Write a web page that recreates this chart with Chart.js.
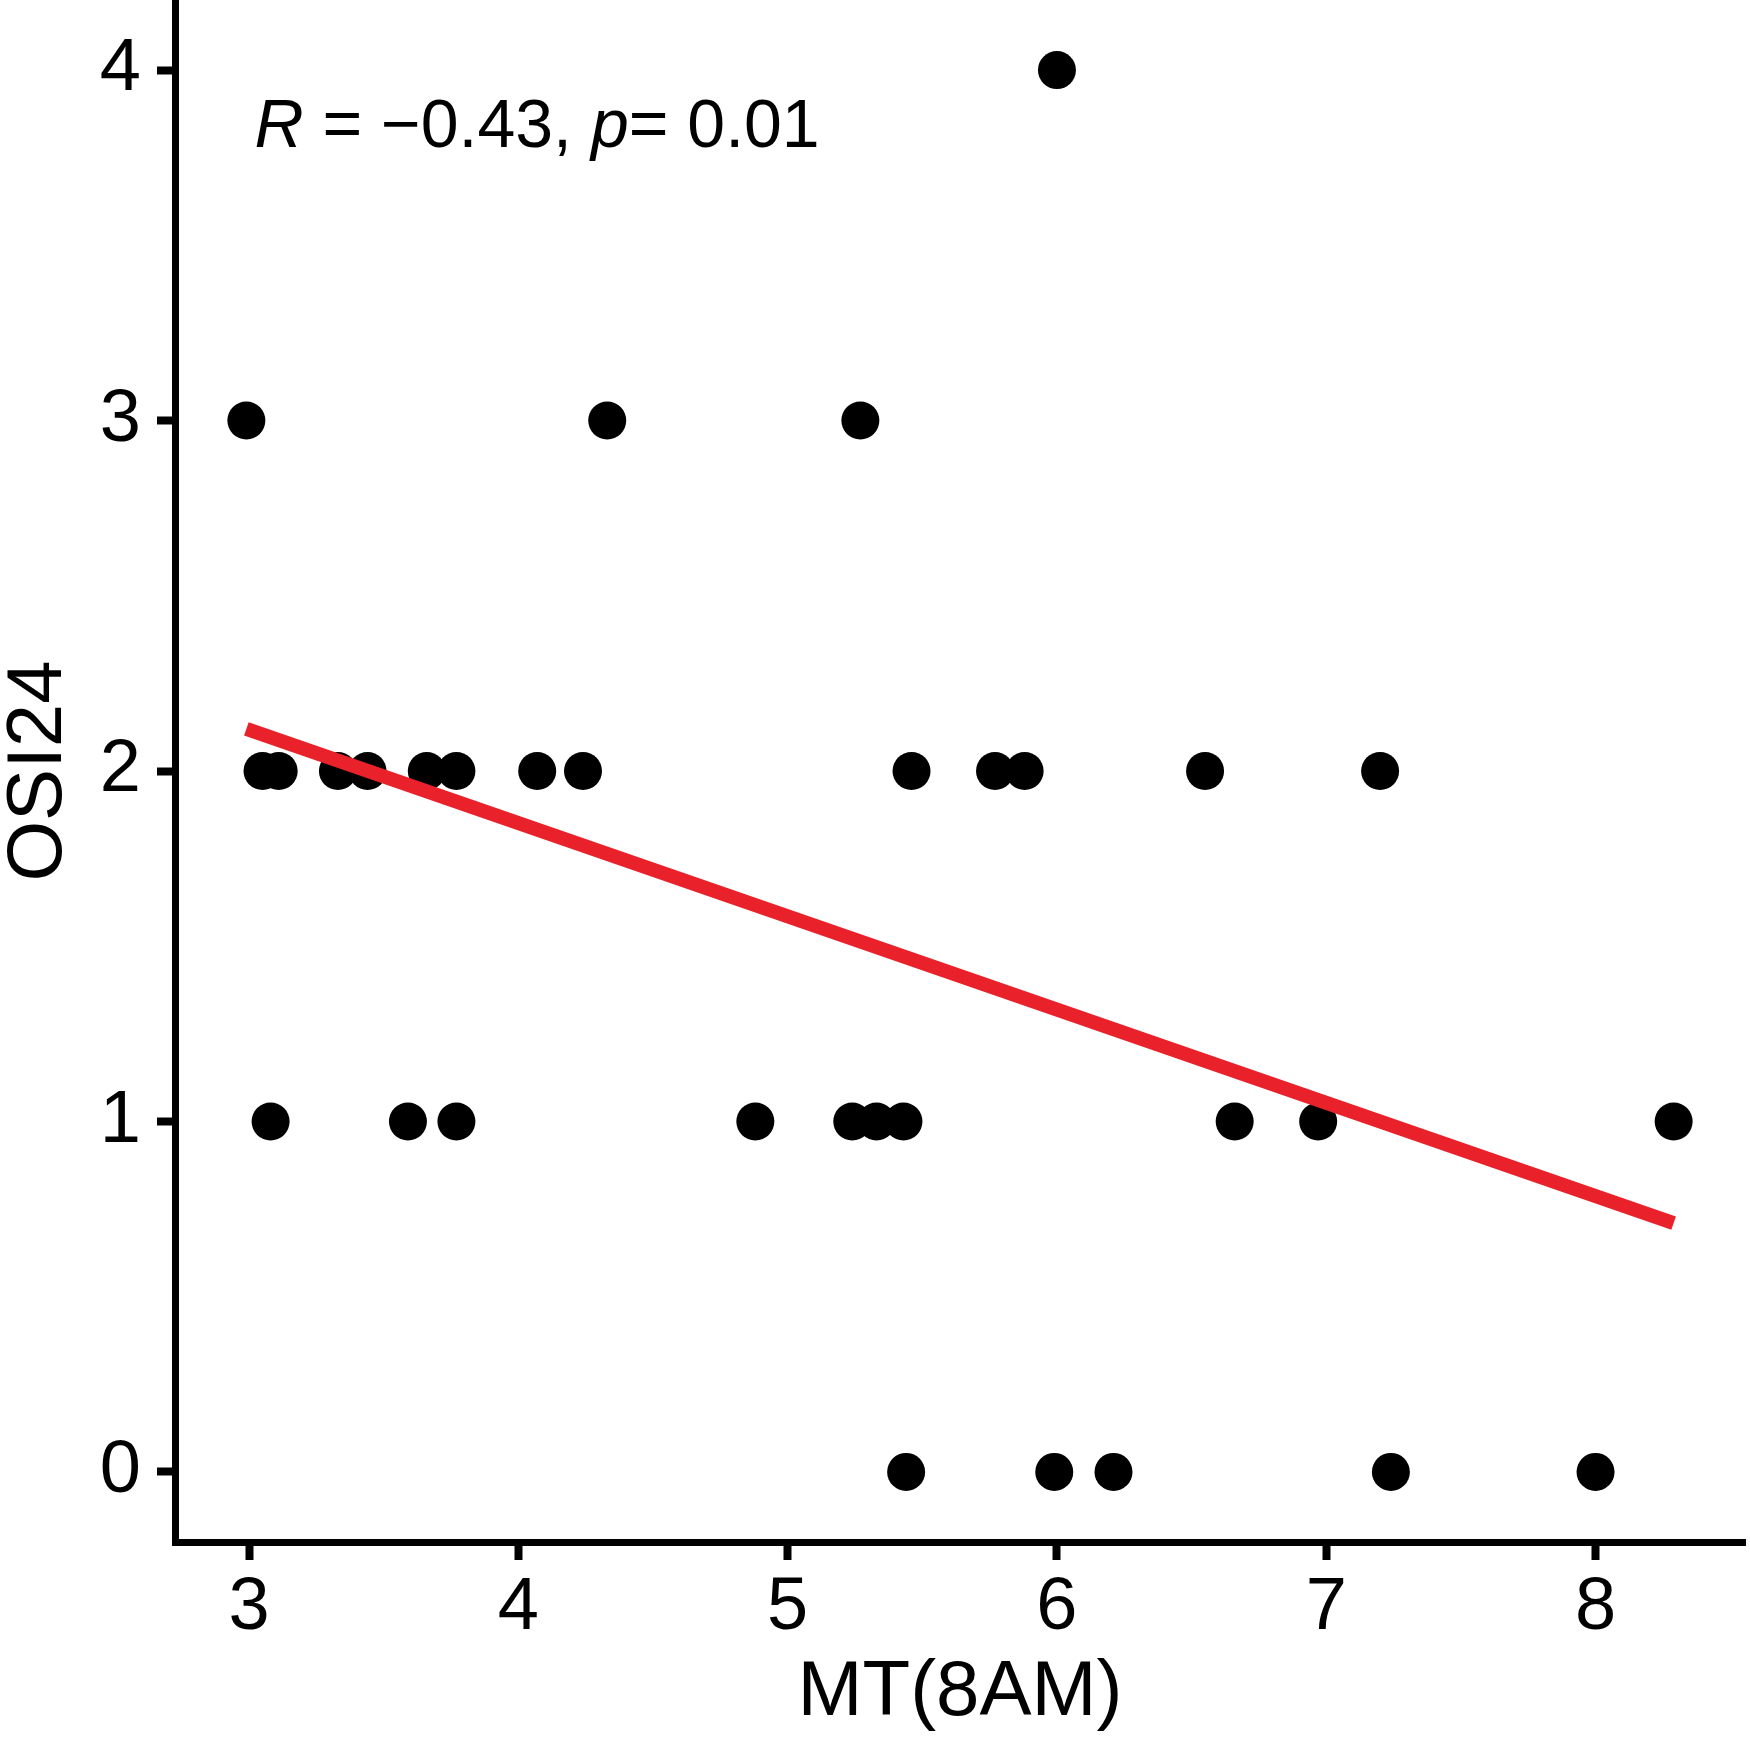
<!DOCTYPE html>
<html>
<head>
<meta charset="utf-8">
<script src="https://cdn.jsdelivr.net/npm/chart.js@4"></script>
<style>
  html, body { margin: 0; padding: 0; background: #fff; }
  #chart { display: block; }
</style>
</head>
<body>
<canvas id="chart" width="1750" height="1745"></canvas>
<script>
// MT at 8AM and the matching OSI24 score
const mtValues = [
    6.00,
    2.99, 4.33, 5.27,
    3.05, 3.11, 3.33, 3.44, 3.66, 3.77, 4.07, 4.24, 5.46, 5.77, 5.88, 6.55, 7.20,
    3.08, 3.59, 3.77, 4.88, 5.24, 5.33, 5.43, 6.66, 6.97, 8.29,
    5.44, 5.99, 6.21, 7.24, 8.00
];
const osiValues = [
    4,
    3, 3, 3,
    2, 2, 2, 2, 2, 2, 2, 2, 2, 2, 2, 2, 2,
    1, 1, 1, 1, 1, 1, 1, 1, 1, 1,
    0, 0, 0, 0, 0
];

// ends of the fitted line
const fitX = [2.99, 8.29];
const fitY = [2.12, 0.71];

const xTicks = [3, 4, 5, 6, 7, 8];
const yTicks = [0, 1, 2, 3, 4];

const corLabel = [
    { text: 'R', italic: true },
    { text: ' = \u22120.43, ', italic: false },
    { text: 'p', italic: true },
    { text: '= 0.01', italic: false }
];
const corAt = { x: 3.02, y: 3.78 };

const points = mtValues.map((v, i) => ({ x: v, y: osiValues[i] }));
const fitLine = fitX.map((v, i) => ({ x: v, y: fitY[i] }));

const FONT = "'Liberation Sans', Arial, sans-serif";

const corText = {
    id: 'corText',
    afterDatasetsDraw(chart) {
        const ctx = chart.ctx;
        let x = chart.scales.x.getPixelForValue(corAt.x);
        const y = chart.scales.y.getPixelForValue(corAt.y);
        ctx.save();
        ctx.fillStyle = '#000';
        ctx.textBaseline = 'alphabetic';
        ctx.textAlign = 'left';
        corLabel.forEach(part => {
            ctx.font = (part.italic ? 'italic ' : '') + '68px ' + FONT;
            ctx.fillText(part.text, x, y);
            x += ctx.measureText(part.text).width;
        });
        ctx.restore();
    }
};

const axisGrid = {
    drawOnChartArea: false,
    drawTicks: true,
    tickLength: 18,
    tickWidth: 8,
    tickColor: '#000'
};

new Chart(document.getElementById('chart').getContext('2d'), {
    type: 'scatter',
    data: {
        datasets: [
            {
                type: 'line',
                data: fitLine,
                borderColor: '#e8212a',
                borderWidth: 14,
                borderCapStyle: 'butt',
                pointRadius: 0,
                fill: false,
                order: 0
            },
            {
                data: points,
                backgroundColor: '#000',
                borderWidth: 0,
                pointRadius: 19,
                pointHoverRadius: 19,
                order: 1
            }
        ]
    },
    options: {
        responsive: false,
        devicePixelRatio: 1,
        animation: false,
        layout: {
            autoPadding: false,
            padding: { left: 0, right: 5, top: 0, bottom: 0 }
        },
        plugins: {
            legend: { display: false },
            tooltip: { enabled: false }
        },
        scales: {
            x: {
                type: 'linear',
                min: 2.725,
                max: 8.555,
                afterFit(scale) {
                    scale.height = 203;
                    scale.paddingLeft = 0;
                    scale.paddingRight = 0;
                },
                afterBuildTicks(scale) { scale.ticks = xTicks.map(v => ({ value: v })); },
                grid: axisGrid,
                border: { display: true, width: 7, color: '#000' },
                ticks: {
                    color: '#000',
                    padding: 4,
                    maxRotation: 0,
                    font: { family: FONT, size: 74 }
                },
                title: {
                    display: true,
                    text: 'MT(8AM)',
                    color: '#000',
                    padding: { top: 0, bottom: 13 },
                    font: { family: FONT, size: 78, lineHeight: 1 }
                }
            },
            y: {
                type: 'linear',
                min: -0.2,
                max: 4.2,
                afterFit(scale) {
                    scale.width = 175;
                    scale.paddingTop = 0;
                    scale.paddingBottom = 0;
                },
                afterBuildTicks(scale) { scale.ticks = yTicks.map(v => ({ value: v })); },
                grid: axisGrid,
                border: { display: true, width: 7, color: '#000' },
                ticks: {
                    color: '#000',
                    padding: 16,
                    font: { family: FONT, size: 74 }
                },
                title: {
                    display: true,
                    text: 'OSI24',
                    color: '#000',
                    padding: { top: 0, bottom: 0 },
                    font: { family: FONT, size: 78, lineHeight: 1 }
                }
            }
        }
    },
    plugins: [corText]
});
</script>
</body>
</html>
